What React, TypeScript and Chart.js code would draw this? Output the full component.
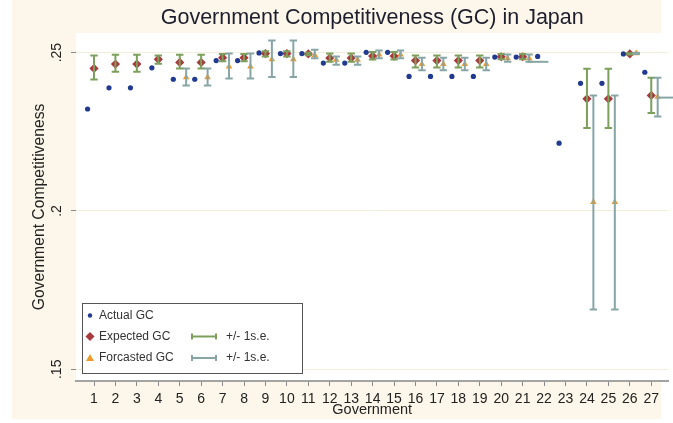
import React, { useEffect, useRef } from 'react';
import { Chart, registerables } from 'chart.js';

Chart.register(...registerables);

// ---------- data ----------
const governments = [1, 2, 3, 4, 5, 6, 7, 8, 9, 10, 11, 12, 13, 14, 15, 16, 17, 18, 19, 20, 21, 22, 23, 24, 25, 26, 27];

const actualGC = [
  0.2322, 0.2389, 0.2389, 0.2452, 0.2416, 0.2416, 0.2475, 0.2475, 0.2499, 0.2497,
  0.2497, 0.2467, 0.2467, 0.2501, 0.2501, 0.2425, 0.2425, 0.2425, 0.2425, 0.2486,
  0.2486, 0.2488, 0.2214, 0.2403, 0.2403, 0.2496, 0.2438,
];

const expectedGC = [
  0.2450, 0.2464, 0.2464, 0.2479, 0.2469, 0.2469, 0.2484, 0.2484, 0.2497, 0.2497,
  0.2496, 0.2483, 0.2483, 0.2489, 0.2489, 0.2475, 0.2475, 0.2475, 0.2475, 0.2487,
  0.2487, null, null, 0.2354, 0.2354, 0.2496, 0.2365,
];
const expectedLow = [
  0.2415, 0.2440, 0.2440, 0.2465, 0.2450, 0.2450, 0.2473, 0.2473, 0.2488, 0.2488,
  0.2492, 0.2471, 0.2471, 0.2478, 0.2478, 0.2453, 0.2453, 0.2453, 0.2453, 0.2479,
  0.2479, null, null, 0.2262, 0.2262, 0.2494, 0.2309,
];
const expectedHigh = [
  0.2491, 0.2493, 0.2493, 0.2491, 0.2493, 0.2493, 0.2496, 0.2496, 0.2504, 0.2504,
  0.2500, 0.2497, 0.2497, 0.2502, 0.2502, 0.2491, 0.2491, 0.2491, 0.2491, 0.2496,
  0.2496, null, null, 0.2449, 0.2449, 0.2498, 0.2421,
];

const forecastGC = [
  null, null, null, null, 0.2422, 0.2422, 0.2456, 0.2456, 0.2479, 0.2479,
  0.2492, 0.2477, 0.2477, 0.2494, 0.2494, 0.2464, 0.2464, 0.2464, 0.2464, 0.2482,
  0.2482, null, null, 0.2028, 0.2028, 0.2498, 0.2360,
];
const forecastLow = [
  null, null, null, null, 0.2396, 0.2396, 0.2418, 0.2418, 0.2423, 0.2423,
  0.2482, 0.2462, 0.2462, 0.2482, 0.2482, 0.2444, 0.2444, 0.2444, 0.2444, 0.2471,
  0.2471, null, null, 0.1689, 0.1689, 0.2496, 0.2298,
];
const forecastHigh = [
  null, null, null, null, 0.2450, 0.2450, 0.2497, 0.2497, 0.2538, 0.2538,
  0.2509, 0.2488, 0.2488, 0.2507, 0.2507, 0.2484, 0.2484, 0.2484, 0.2484, 0.2494,
  0.2494, null, null, 0.2365, 0.2365, 0.2500, 0.2421,
];

// stray horizontal segments of the forecast band
const extraSegStart = [21.25, 27.3];
const extraSegEnd = [22.2, 28.6];
const extraSegY = [0.2471, 0.2358];

const yTickValues = [0.15, 0.2, 0.25];

const legendLabels = ['Actual GC', 'Expected GC', 'Forcasted GC'];
const legendBarLabels = ['+/- 1s.e.', '+/- 1s.e.'];

// ---------- styles ----------
const FONT = '"Liberation Sans", Arial, Helvetica, sans-serif';
const CREAM = '#FCF7EA';
const NAVY = '#1F3A8F';
const RED = '#A8393C';
const ORANGE = '#EE9A2A';
const GREEN = '#7CA05C';
const TEAL = '#88A5A6';
const OFFSET = 0.3;

function drawCapBar(ctx: CanvasRenderingContext2D, x: number, y1: number, y2: number, half: number) {
  ctx.beginPath();
  ctx.moveTo(x, y1);
  ctx.lineTo(x, y2);
  ctx.moveTo(x - half, y1);
  ctx.lineTo(x + half, y1);
  ctx.moveTo(x - half, y2);
  ctx.lineTo(x + half, y2);
  ctx.stroke();
}

const backgroundPlugin = {
  id: 'stataBackground',
  beforeDraw(chart: any) {
    const { ctx, chartArea: ca, width, height } = chart;
    ctx.save();
    ctx.fillStyle = '#ffffff';
    ctx.fillRect(0, 0, width, height);
    ctx.fillStyle = CREAM;
    ctx.fillRect(12, 0, 649, 419);
    ctx.fillStyle = '#ffffff';
    ctx.fillRect(ca.left, ca.top, ca.right - ca.left, ca.bottom - ca.top);
    ctx.restore();
  },
};

const errorBarPlugin = {
  id: 'errorBars',
  afterDatasetsDraw(chart: any) {
    const { ctx } = chart;
    const xs = chart.scales.x;
    const ys = chart.scales.y;
    ctx.save();
    ctx.lineWidth = 2;
    ctx.lineCap = 'butt';
    ctx.strokeStyle = GREEN;
    governments.forEach((g, i) => {
      const lo = expectedLow[i];
      const hi = expectedHigh[i];
      if (lo == null || hi == null) return;
      drawCapBar(ctx, xs.getPixelForValue(g), ys.getPixelForValue(hi), ys.getPixelForValue(lo), 3.7);
    });
    ctx.strokeStyle = TEAL;
    governments.forEach((g, i) => {
      const lo = forecastLow[i];
      const hi = forecastHigh[i];
      if (lo == null || hi == null) return;
      drawCapBar(ctx, xs.getPixelForValue(g + OFFSET), ys.getPixelForValue(hi), ys.getPixelForValue(lo), 3.7);
    });
    extraSegY.forEach((yv, k) => {
      const py = ys.getPixelForValue(yv);
      ctx.beginPath();
      ctx.moveTo(xs.getPixelForValue(extraSegStart[k]), py);
      ctx.lineTo(xs.getPixelForValue(extraSegEnd[k]), py);
      ctx.stroke();
    });
    ctx.restore();
  },
};

function drawMarker(ctx: CanvasRenderingContext2D, kind: number, x: number, y: number) {
  ctx.beginPath();
  if (kind === 0) {
    ctx.fillStyle = NAVY;
    ctx.arc(x, y, 2.2, 0, Math.PI * 2);
  } else if (kind === 1) {
    ctx.fillStyle = RED;
    const r = 4.5;
    ctx.moveTo(x, y - r);
    ctx.lineTo(x + r, y);
    ctx.lineTo(x, y + r);
    ctx.lineTo(x - r, y);
    ctx.closePath();
  } else {
    ctx.fillStyle = ORANGE;
    const r = 4;
    ctx.moveTo(x, y - r);
    ctx.lineTo(x + r, y + r * 0.75);
    ctx.lineTo(x - r, y + r * 0.75);
    ctx.closePath();
  }
  ctx.fill();
}

const legendPlugin = {
  id: 'stataLegend',
  afterDraw(chart: any) {
    const { ctx, chartArea: ca } = chart;
    const bx = ca.left + 6;
    const by = ca.top + 270;
    const bw = 220;
    const bh = 70;
    ctx.save();
    ctx.fillStyle = '#ffffff';
    ctx.fillRect(bx, by, bw, bh);
    ctx.strokeStyle = '#555555';
    ctx.lineWidth = 1;
    ctx.strokeRect(bx + 0.5, by + 0.5, bw, bh);
    ctx.font = `12px ${FONT}`;
    ctx.textBaseline = 'middle';
    ctx.textAlign = 'left';
    const rowY = [by + 12.5, by + 33.5, by + 55];
    legendLabels.forEach((lab, k) => {
      drawMarker(ctx, k, bx + 8, rowY[k]);
      ctx.fillStyle = '#333333';
      ctx.fillText(lab, bx + 17, rowY[k]);
    });
    const barColors = [GREEN, TEAL];
    legendBarLabels.forEach((lab, k) => {
      const y = rowY[k + 1];
      ctx.strokeStyle = barColors[k];
      ctx.lineWidth = 2;
      ctx.beginPath();
      ctx.moveTo(bx + 110, y);
      ctx.lineTo(bx + 134, y);
      ctx.moveTo(bx + 110, y - 3);
      ctx.lineTo(bx + 110, y + 3);
      ctx.moveTo(bx + 134, y - 3);
      ctx.lineTo(bx + 134, y + 3);
      ctx.stroke();
      ctx.fillStyle = '#333333';
      ctx.fillText(lab, bx + 144, y);
    });
    ctx.restore();
  },
};

export default function App() {
  const canvasRef = useRef<HTMLCanvasElement | null>(null);

  useEffect(() => {
    if (!canvasRef.current) return;
    const chart = new Chart(canvasRef.current, {
      type: 'scatter',
      data: {
        datasets: [
          {
            label: 'Actual GC',
            data: governments.map((g, i) => ({ x: g - OFFSET, y: actualGC[i] })),
            pointStyle: 'circle',
            pointRadius: 2.6,
            backgroundColor: NAVY,
            borderColor: NAVY,
            borderWidth: 0,
          },
          {
            label: 'Expected GC',
            data: governments
              .map((g, i) => ({ x: g, y: expectedGC[i] }))
              .filter((p) => p.y != null),
            pointStyle: 'rectRot',
            pointRadius: 4.6,
            backgroundColor: RED,
            borderColor: RED,
            borderWidth: 0,
          },
          {
            label: 'Forcasted GC',
            data: governments
              .map((g, i) => ({ x: g + OFFSET, y: forecastGC[i] }))
              .filter((p) => p.y != null),
            pointStyle: 'triangle',
            pointRadius: 3.8,
            backgroundColor: ORANGE,
            borderColor: ORANGE,
            borderWidth: 0,
          },
        ] as any,
      },
      options: {
        animation: false,
        responsive: false,
        devicePixelRatio: 1,
        events: [],
        layout: { padding: 0 },
        plugins: {
          legend: { display: false },
          tooltip: { enabled: false },
          title: {
            display: true,
            fullSize: false,
            text: 'Government Competitiveness (GC) in Japan',
            color: '#1d1f2e',
            font: { family: FONT, size: 21.5, weight: 'normal', lineHeight: 1.2 },
            padding: { top: 5, bottom: 2.2 },
          },
        },
        scales: {
          x: {
            type: 'linear',
            min: 0.16,
            max: 27.8,
            afterBuildTicks: (s: any) => {
              s.ticks = governments.map((v) => ({ value: v }));
            },
            afterFit: (s: any) => {
              s.height = 42;
            },
            ticks: {
              autoSkip: false,
              maxRotation: 0,
              minRotation: 0,
              padding: 5,
              color: '#222222',
              font: { family: FONT, size: 14 },
              callback: (v: any) => String(v),
            },
            grid: {
              drawOnChartArea: false,
              drawTicks: true,
              tickLength: 5,
              tickColor: '#8a8a8a',
              tickWidth: 1,
            },
            border: { display: true, color: '#a3a3a3', width: 2 },
            title: {
              display: true,
              text: 'Government',
              color: '#222222',
              font: { family: FONT, size: 14.5 },
              padding: { top: 0, bottom: 4 },
            },
          },
          y: {
            type: 'linear',
            min: 0.1463,
            max: 0.2562,
            afterBuildTicks: (s: any) => {
              s.ticks = yTickValues.map((v) => ({ value: v }));
            },
            afterFit: (s: any) => {
              s.width = 76;
            },
            ticks: {
              minRotation: 90,
              maxRotation: 90,
              crossAlign: 'center',
              padding: 4,
              color: '#222222',
              font: { family: FONT, size: 14 },
              callback: (v: any) => String(v).replace(/^0/, ''),
            },
            grid: {
              color: '#F4EDDA',
              lineWidth: 1,
              tickLength: 5,
              tickColor: '#8a8a8a',
              tickWidth: 1,
            },
            border: { display: false },
            title: {
              display: true,
              text: 'Government Competitiveness',
              color: '#222222',
              font: { family: FONT, size: 15.7 },
              padding: { top: 30, bottom: 0 },
            },
          },
        },
      } as any,
      plugins: [backgroundPlugin, errorBarPlugin, legendPlugin],
    });
    return () => chart.destroy();
  }, []);

  return (
    <div style={{ position: 'absolute', left: 0, top: 0, width: 673, height: 423 }}>
      <canvas ref={canvasRef} width={673} height={423} style={{ display: 'block' }} />
    </div>
  );
}
